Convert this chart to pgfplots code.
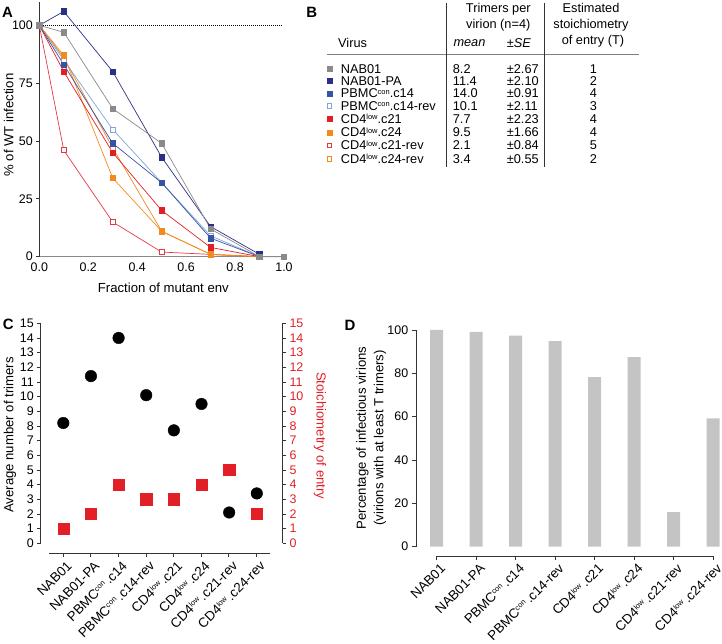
\documentclass[border=0pt]{standalone}
\usepackage{pgfplots}
\pgfplotsset{compat=1.18}
\usepackage{fontspec}
\setmainfont{Liberation Sans}

\definecolor{cgray}{HTML}{8A8A8A}
\definecolor{cnavy}{HTML}{2B2F86}
\definecolor{cblue}{HTML}{3953A4}
\definecolor{clblue}{HTML}{7EA6D9}
\definecolor{cred}{HTML}{E21F26}
\definecolor{corange}{HTML}{F38B1C}
\definecolor{credo}{HTML}{E03A44}
\definecolor{corangeo}{HTML}{F0891E}
\definecolor{cbar}{HTML}{C4C4C4}
\definecolor{caxis}{HTML}{333333}

\newcommand{\tk}{\fontsize{12.5}{14}\selectfont}
\newcommand{\tkx}{\fontsize{13.4}{15}\selectfont}
\newcommand{\lb}{\fontsize{13.2}{15}\selectfont}
\newcommand{\tb}{\fontsize{12.8}{14}\selectfont}
\newcommand{\pl}{\fontsize{15}{17}\selectfont\bfseries}
\newcommand{\sps}[1]{\raisebox{0.55ex}{\fontsize{7.5}{8}\selectfont #1}}

\pgfplotsset{
  common/.style={scale only axis, clip=false, tick align=outside,
    tick label style={font=\tk, text=black},
    /pgf/number format/assume math mode=true,
    axis line style={caxis, line width=0.8bp},
    tick style={caxis, line width=0.8bp}},
  ser/.style={#1, line width=0.7bp, mark=square*, mark size=2.7bp, mark options={solid, fill=#1}},
  sero/.style={#1, line width=0.7bp, mark=square*, mark size=2.5bp, mark options={solid, fill=white, draw=#1, line width=0.8bp}},
  catx/.style={common, axis x line*=bottom, hide y axis, major tick length=4bp,
    xtick={0,...,7},
    xticklabels={NAB01, NAB01-PA, PBMC\sps{con}\,.c14, PBMC\sps{con}\,.c14-rev, CD4\sps{low}\,.c21, CD4\sps{low}\,.c24, CD4\sps{low}\,.c21-rev, CD4\sps{low}\,.c24-rev},
    xticklabel style={font=\tkx, rotate=45, anchor=north east, inner sep=0pt, yshift=-4bp}},
}

\begin{document}
\begin{tikzpicture}[x=1bp,y=1bp]
\useasboundingbox (0,0) rectangle (722,644);

% ---------------- Panel A
\begin{axis}[common, at={(39.3bp,387.3bp)}, anchor=south west,
  width=244.7bp, height=254.5bp,
  xmin=0, xmax=1, ymin=0, ymax=110,
  axis x line*=bottom, axis y line*=left,
  x axis line style={cgray, line width=0.9bp},
  xtick={0,0.2,0.4,0.6,0.8,1}, xticklabels={0.0,0.2,0.4,0.6,0.8,1.0},
  x tick style={draw=none},
  ytick={0,25,50,75,100}, major tick length=3bp]
\addplot[black, line width=1.1bp, dash pattern=on 1bp off 1bp] coordinates {(0,100) (0.995,100)};
\addplot[sero=credo] coordinates {(0,100) (0.1,46) (0.3,15) (0.5,2) (0.7,1) (0.9,0)};
\addplot[sero=corangeo] coordinates {(0,100) (0.1,86) (0.3,47) (0.5,11) (0.7,1) (0.9,0)};
\addplot[sero=clblue] coordinates {(0,100) (0.1,85) (0.3,55) (0.5,32) (0.7,9) (0.9,0)};
\addplot[ser=corange] coordinates {(0,100) (0.1,87) (0.3,34) (0.5,11) (0.7,1) (0.9,0)};
\addplot[ser=cred] coordinates {(0,100) (0.1,80) (0.3,45) (0.5,20) (0.7,4) (0.9,0)};
\addplot[ser=cblue] coordinates {(0,100) (0.1,83) (0.3,49) (0.5,32) (0.7,8) (0.9,0)};
\addplot[ser=cnavy] coordinates {(0,100) (0.1,106) (0.3,80) (0.5,43) (0.7,13) (0.9,1)};
\addplot[ser=cgray] coordinates {(0,100) (0.1,97) (0.3,64) (0.5,49) (0.7,12) (0.9,0) (1.0,0)};
\end{axis}
\node[font=\pl] at (7.5,631.5) {A};
\node[font=\lb, rotate=90] at (8.7,519) {\% of WT infection};
\node[font=\lb] at (163.3,356.5) {Fraction of mutant env};

% ---------------- Panel B (table)
\begin{axis}[at={(0bp,0bp)}, anchor=south west, scale only axis, width=722bp, height=644bp,
  xmin=0, xmax=722, ymin=0, ymax=644, y dir=reverse, hide axis, clip=false]
\addplot[only marks, mark=square*, mark size=2.6bp, cgray] coordinates {(329.5,69)};
\addplot[only marks, mark=square*, mark size=2.6bp, cnavy] coordinates {(329.5,81)};
\addplot[only marks, mark=square*, mark size=2.6bp, cblue] coordinates {(329.5,93.5)};
\addplot[only marks, mark=square*, mark size=2.3bp, mark options={fill=white, draw=clblue, line width=0.8bp}] coordinates {(329.5,106)};
\addplot[only marks, mark=square*, mark size=2.6bp, cred] coordinates {(329.5,119)};
\addplot[only marks, mark=square*, mark size=2.6bp, corange] coordinates {(329.5,132.5)};
\addplot[only marks, mark=square*, mark size=2.3bp, mark options={fill=white, draw=credo, line width=0.8bp}] coordinates {(329.5,145.5)};
\addplot[only marks, mark=square*, mark size=2.3bp, mark options={fill=white, draw=corangeo, line width=0.8bp}] coordinates {(329.5,159)};
\end{axis}
\node[font=\pl] at (311.7,631.5) {B};
\draw[gray, line width=0.9bp] (326.7,589.7) -- (639.3,589.7);
\draw[caxis, line width=0.9bp] (446.7,640.7) -- (446.7,477.3);
\draw[caxis, line width=0.9bp] (544.3,640.7) -- (544.3,477.3);
\begin{scope}[every node/.style={font=\tb, inner sep=0pt}]
\node at (498.3,634.7) {Trimers per};
\node at (498.3,619) {virion (n=4)};
\node[anchor=west] at (453.3,600.7) {\itshape mean};
\node[anchor=west] at (506.7,600.7) {\itshape ±SE};
\node[anchor=west] at (338,600.7) {Virus};
\node at (591,635.7) {Estimated};
\node at (591,619) {stoichiometry};
\node at (593,602.3) {of entry (T)};
% rows
\foreach \py/\nm/\mn/\se/\tt in {
  69/{NAB01}/8.2/2.67/1,
  81/{NAB01-PA}/11.4/2.10/2,
  93.5/{PBMC\sps{con}.c14}/14.0/0.91/4,
  106/{PBMC\sps{con}.c14-rev}/10.1/2.11/3,
  119/{CD4\sps{low}.c21}/7.7/2.23/4,
  132.5/{CD4\sps{low}.c24}/9.5/1.66/4,
  145.5/{CD4\sps{low}.c21-rev}/2.1/0.84/5,
  159/{CD4\sps{low}.c24-rev}/3.4/0.55/2}{
  \node[anchor=west] at (340.7,644-\py) {\nm};
  \node[anchor=west] at (452.7,644-\py) {\mn};
  \node[anchor=west] at (506.7,644-\py) {±\se};
  \node at (593.3,644-\py) {\tt};
}
\end{scope}

% ---------------- Panel C
\begin{axis}[common, at={(40.7bp,100.7bp)}, anchor=south west,
  width=241.8bp, height=220bp,
  xmin=-0.818, xmax=7.93, ymin=0, ymax=15,
  axis y line*=left, hide x axis,
  ytick={0,...,15}, major tick length=3.5bp]
\addplot[only marks, mark=*, mark size=5.8bp, black] coordinates {
  (0,8.2) (1,11.4) (2,14.0) (3,10.1) (4,7.7) (5,9.5) (6,2.1) (7,3.4)};
\addplot[only marks, mark=square*, mark size=5.6bp, cred] coordinates {
  (0,1) (1,2) (2,4) (3,3) (4,3) (5,4) (6,5) (7,2)};
\end{axis}
\begin{axis}[common, at={(40.7bp,100.7bp)}, anchor=south west,
  width=241.8bp, height=220bp,
  xmin=-0.818, xmax=7.93, ymin=0, ymax=15,
  axis y line*=right, hide x axis,
  ytick={0,...,15}, major tick length=3.5bp,
  yticklabel style={text=cred}]
\addplot[draw=none] coordinates {(0,0)};
\end{axis}
\begin{axis}[catx, at={(49.3bp,90.7bp)}, anchor=south west,
  width=221bp, height=10bp,
  xmin=-0.5, xmax=7.5, ymin=0, ymax=1]
\addplot[draw=none] coordinates {(0,0)};
\end{axis}
\node[font=\pl] at (8.3,319.7) {C};
\node[font=\lb, rotate=90] at (10,209) {Average number of trimers};
\node[font=\lb, rotate=-90, text=cred] at (320,208.2) {Stoichiometry of entry};

% ---------------- Panel D
\begin{axis}[common, at={(416.7bp,97.3bp)}, anchor=south west,
  width=304.4bp, height=216.7bp,
  xmin=-0.506, xmax=7.2, ymin=0, ymax=100,
  axis y line*=left, hide x axis,
  ytick={0,20,...,100}, major tick length=5bp]
\addplot[ybar, bar width=13bp, fill=cbar, draw=none] coordinates {
  (0,100) (1,99.1) (2,97.4) (3,94.9) (4,78.3) (5,87.5) (6,16) (7,59.2)};
\end{axis}
\begin{axis}[catx, at={(436.7bp,88bp)}, anchor=south west,
  width=276.5bp, height=10bp,
  xmin=0, xmax=7, ymin=0, ymax=1]
\addplot[draw=none] coordinates {(0,0)};
\end{axis}
\node[font=\pl] at (350,319) {D};
\node[font=\lb, rotate=90] at (362.5,206) {Percentage of infectious virions};
\node[font=\lb, rotate=90] at (380,206) {(virions with at least T trimers)};
\end{tikzpicture}
\end{document}
